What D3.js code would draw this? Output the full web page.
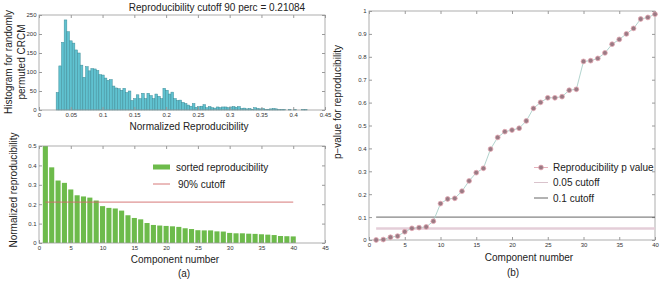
<!DOCTYPE html>
<html><head><meta charset="utf-8">
<script src="https://cdn.jsdelivr.net/npm/d3@7"></script>
<style>body{margin:0;background:#fff}svg{display:block}text{font-family:"Liberation Sans",Arial,sans-serif}</style>
</head><body><svg id="c" width="661" height="281"></svg>
<script>
// ---------- data ----------
const histStart = 0.027;
const histBinWidth = 0.0042;
const histCounts = [46,116,178,237,206,182,176,158,150,118,86,114,103,109,108,104,93,92,84,78,80,63,58,56,52,57,46,50,25,30,40,30,44,30,44,38,30,42,36,30,57,52,42,47,30,25,26,20,17,13,10,17,7,9,10,14,6,9,6,5,8,6,8,8,6,8,9,7,9,4,5,3,4,2,6,4,3,4,1,2,3,4,3,1,1,1,0,1,0,1,0,0,1,1];
const histXTicks = [0,0.05,0.1,0.15,0.2,0.25,0.3,0.35,0.4,0.45];
const histYTicks = [0,50,100,150,200,250];
const histTitle = "Reproducibility cutoff 90 perc = 0.21084";

const components = [1,2,3,4,5,6,7,8,9,10,11,12,13,14,15,16,17,18,19,20,21,22,23,24,25,26,27,28,29,30,31,32,33,34,35,36,37,38,39,40];
const sortedRepro = [0.5,0.39,0.322,0.31,0.276,0.246,0.24,0.234,0.219,0.19,0.181,0.178,0.167,0.143,0.129,0.122,0.103,0.093,0.09,0.088,0.086,0.083,0.076,0.072,0.066,0.065,0.065,0.06,0.059,0.052,0.05,0.05,0.048,0.047,0.045,0.043,0.041,0.036,0.035,0.034];
const cutoff90 = 0.21084;
const barXTicks = [0,5,10,15,20,25,30,35,40,45];
const barYTicks = [0,0.1,0.2,0.3,0.4,0.5];

const pValues = [0.0,0.002,0.012,0.017,0.036,0.051,0.054,0.057,0.082,0.159,0.179,0.182,0.213,0.258,0.294,0.313,0.397,0.448,0.473,0.480,0.488,0.52,0.575,0.601,0.621,0.621,0.626,0.654,0.658,0.780,0.783,0.793,0.817,0.855,0.876,0.900,0.924,0.965,0.972,0.986];
const pCut05 = 0.05, pCut10 = 0.1;
const pXTicks = [0,5,10,15,20,25,30,35,40];
const pYTicks = [0,0.1,0.2,0.3,0.4,0.5,0.6,0.7,0.8,0.9,1];

// ---------- helpers ----------
const svg = d3.select("#c");
const frameColor = "#9a9a9a", tickText = "#333";
function frame(x, y, xt, yt, fmtX, fmtY) {
  const [x0, x1] = x.range(), [y0, y1] = y.range();
  const g = svg.append("g");
  const style = a => { a.select(".domain").remove(); a.selectAll("line").attr("stroke", frameColor);
    a.selectAll("text").attr("font-size", 6).attr("fill", tickText); };
  g.append("g").attr("transform", `translate(0,${y0})`)
    .call(d3.axisBottom(x).tickValues(xt).tickSize(-3).tickPadding(3).tickFormat(fmtX)).call(style);
  g.append("g").attr("transform", `translate(0,${y1})`)
    .call(d3.axisTop(x).tickValues(xt).tickSize(-3).tickFormat("")).call(style);
  g.append("g").attr("transform", `translate(${x0},0)`)
    .call(d3.axisLeft(y).tickValues(yt).tickSize(-3).tickPadding(2.5).tickFormat(fmtY)).call(style);
  g.append("g").attr("transform", `translate(${x1},0)`)
    .call(d3.axisRight(y).tickValues(yt).tickSize(-3).tickFormat("")).call(style);
  g.append("rect").attr("x", x0).attr("y", y1).attr("width", x1 - x0).attr("height", y0 - y1)
    .attr("fill", "none").attr("stroke", frameColor).attr("stroke-width", 0.8);
}
function label(x, y, txt, rot, size, anchor) {
  const t = svg.append("text").attr("font-size", size || 10).attr("fill", "#222")
    .attr("text-anchor", anchor || "middle").attr("dominant-baseline", "central").text(txt);
  if (rot) t.attr("transform", `translate(${x},${y}) rotate(-90)`); else t.attr("x", x).attr("y", y);
  return t;
}
const fmtNum = d => d === 0 ? "0" : String(+d.toFixed(2));

// ---------- histogram ----------
const hx = d3.scaleLinear().domain([0, 0.45]).range([39, 325]);
const hy = d3.scaleLinear().domain([0, 250]).range([110, 15]);
svg.append("g").selectAll("rect").data(histCounts).join("rect")
  .attr("x", (d, i) => hx(histStart + i * histBinWidth))
  .attr("width", hx(histBinWidth) - hx(0))
  .attr("y", d => hy(d)).attr("height", d => hy(0) - hy(d))
  .attr("fill", "#60c2d0").attr("stroke", "#3f8d99").attr("stroke-width", 0.5);
frame(hx, hy, histXTicks, histYTicks, fmtNum, d3.format("d"));
label(217, 7, histTitle);
label(189, 126, "Normalized Reproducibility");
label(8, 62, "Histogram for randomly", true);
label(21, 62, "permuted CRCM", true);

// ---------- sorted reproducibility bars ----------
const bx = d3.scaleLinear().domain([0, 45]).range([39, 325]);
const by = d3.scaleLinear().domain([0, 0.5]).range([243, 146]);
const bw = (bx(0.8) - bx(0));
svg.append("g").selectAll("rect").data(sortedRepro).join("rect")
  .attr("x", (d, i) => bx(components[i]) - bw / 2).attr("width", bw)
  .attr("y", d => by(Math.min(d, 0.5))).attr("height", d => by(0) - by(Math.min(d, 0.5)))
  .attr("fill", "#6dbb4b");
svg.append("line").attr("x1", bx(components[0])).attr("x2", bx(components[components.length - 1]))
  .attr("y1", by(cutoff90)).attr("y2", by(cutoff90)).attr("stroke", "#d16a6a").attr("stroke-width", 0.9);
frame(bx, by, barXTicks, barYTicks, d3.format("d"), fmtNum);
// legend
svg.append("rect").attr("x", 153).attr("y", 164.5).attr("width", 17).attr("height", 5).attr("fill", "#6dbb4b");
label(176, 167, "sorted reproducibility", false, 10, "start");
svg.append("line").attr("x1", 153).attr("x2", 170).attr("y1", 184).attr("y2", 184).attr("stroke", "#d16a6a").attr("stroke-width", 0.9);
label(178, 184, "90% cutoff", false, 10, "start");
label(175, 259, "Component number");
label(13, 190, "Normalized reproducibility", true);
label(184, 273, "(a)");

// ---------- p-values ----------
const px = d3.scaleLinear().domain([0, 40]).range([369, 655]);
const py = d3.scaleLinear().domain([0, 1]).range([240, 11]);
frame(px, py, pXTicks, pYTicks, d3.format("d"), fmtNum);
svg.append("line").attr("x1", px(components[0])).attr("x2", px(components[components.length - 1]))
  .attr("y1", py(pCut05)).attr("y2", py(pCut05)).attr("stroke", "#e4ced8").attr("stroke-width", 2.5);
svg.append("line").attr("x1", px(components[0])).attr("x2", px(components[components.length - 1]))
  .attr("y1", py(pCut10)).attr("y2", py(pCut10)).attr("stroke", "#555").attr("stroke-width", 0.9);
svg.append("path").datum(pValues)
  .attr("d", d3.line().x((d, i) => px(components[i])).y(d => py(d)))
  .attr("fill", "none").attr("stroke", "#a9cfc8").attr("stroke-width", 0.9);
svg.append("g").selectAll("circle").data(pValues).join("circle")
  .attr("cx", (d, i) => px(components[i])).attr("cy", d => py(d)).attr("r", 2.4)
  .attr("fill", "#9a7a84").attr("stroke", "#e3a7b2").attr("stroke-width", 0.8);
// legend
svg.append("line").attr("x1", 534).attr("x2", 548).attr("y1", 167.5).attr("y2", 167.5).attr("stroke", "#e3a7b2").attr("stroke-width", 0.9);
svg.append("circle").attr("cx", 541).attr("cy", 167.5).attr("r", 2.4).attr("fill", "#9a7a84").attr("stroke", "#e3a7b2").attr("stroke-width", 0.8);
label(553, 167, "Reproducibility p value", false, 10, "start");
svg.append("line").attr("x1", 534).attr("x2", 548).attr("y1", 182.5).attr("y2", 182.5).attr("stroke", "#d9c3cc").attr("stroke-width", 1);
label(553, 182, "0.05 cutoff", false, 10, "start");
svg.append("line").attr("x1", 534).attr("x2", 548).attr("y1", 198).attr("y2", 198).attr("stroke", "#555").attr("stroke-width", 0.9);
label(553, 198, "0.1 cutoff", false, 10, "start");
label(529, 257, "Component number");
label(337, 102, "p\u2212value for reproducibility", true);
label(513, 272, "(b)");
</script></body></html>
